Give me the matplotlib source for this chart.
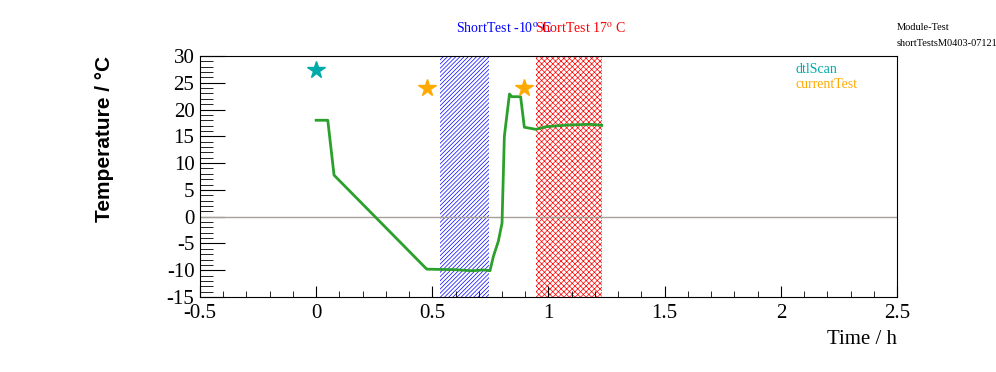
import matplotlib
matplotlib.use("Agg")
import matplotlib.pyplot as plt
from matplotlib.ticker import MultipleLocator, FormatStrFormatter

# Temperature trace
time_h = [0.0, 0.05, 0.077, 0.476, 0.60, 0.67, 0.72, 0.748, 0.763, 0.784, 0.80,
          0.81, 0.832, 0.842, 0.88, 0.896, 0.946, 0.99, 1.08, 1.18, 1.229]
temp_c = [18.0, 18.0, 7.75, -9.8, -9.9, -10.1, -9.95, -10.1, -7.4, -4.6, -1.2,
          15.0, 22.9, 22.4, 22.4, 16.7, 16.3, 16.8, 17.1, 17.25, 17.06]

# Markers
dtl_t = [0.0]
dtl_T = [27.3]
cur_t = [0.476, 0.896]
cur_T = [24.1, 24.1]

# Test windows
cold_window = (0.533, 0.744)
warm_window = (0.945, 1.229)

plt.rcParams['mathtext.fontset'] = 'stix'
plt.rcParams['hatch.linewidth'] = 0.5
plt.rcParams['axes.unicode_minus'] = False
serif = 'Liberation Serif'

fig = plt.figure(figsize=(9.96, 3.72), dpi=100)
ax = fig.add_axes([0.2008, 0.2016, 0.6998, 0.6479])
ax.set_xlim(-0.5, 2.5)
ax.set_ylim(-15, 30)

ax.axvspan(*cold_window, facecolor='none', edgecolor='blue', hatch='////////', linewidth=0)
ax.axvspan(*warm_window, facecolor='none', edgecolor='red', hatch='xxxxxx', linewidth=0)
ax.axhline(0, color='#a89f97', linewidth=1)

ax.plot(time_h, temp_c, color='#2ca02c', linewidth=2)
ax.plot(dtl_t, dtl_T, linestyle='none', marker='*', markersize=13, color='#00aaaa')
ax.plot(cur_t, cur_T, linestyle='none', marker='*', markersize=13, color='#ffaa00')

ax.xaxis.set_major_locator(MultipleLocator(0.5))
ax.xaxis.set_minor_locator(MultipleLocator(0.1))
ax.yaxis.set_major_locator(MultipleLocator(5))
ax.yaxis.set_minor_locator(MultipleLocator(1))
ax.xaxis.set_major_formatter(FormatStrFormatter('%g'))
ax.yaxis.set_major_formatter(FormatStrFormatter('%g'))
ax.tick_params(which='both', direction='in', top=False, right=False)
ax.tick_params(axis='x', which='major', length=8, pad=5)
ax.tick_params(axis='x', which='minor', length=4)
ax.tick_params(axis='y', which='major', length=18, pad=4)
ax.tick_params(axis='y', which='minor', length=9)
for lab in ax.get_xticklabels() + ax.get_yticklabels():
    lab.set_fontfamily(serif)
    lab.set_fontsize(15)

ax.set_ylabel('Temperature / °C', fontfamily='Liberation Sans', fontweight='bold', fontsize=15,
              loc='top', labelpad=38)
ax.set_xlabel('Time / h', fontfamily=serif, fontsize=15, loc='right', labelpad=5)

fig.text(0.4578, 0.925, r'ShortTest -10$^{\mathrm{o}}$ C', color='blue', fontfamily=serif, fontsize=10, va='center')
fig.text(0.537, 0.925, r'ShortTest 17$^{\mathrm{o}}$ C', color='red', fontfamily=serif, fontsize=10, va='center')
fig.text(0.799, 0.812, 'dtlScan', color='#00aaaa', fontfamily=serif, fontsize=10, va='center')
fig.text(0.799, 0.772, 'currentTest', color='#ffaa00', fontfamily=serif, fontsize=10, va='center')
fig.text(0.9, 0.927, 'Module-Test', color='black', fontfamily=serif, fontsize=7.5, va='center')
fig.text(0.9, 0.884, 'shortTestsM0403-071217', color='black', fontfamily=serif, fontsize=7.5, va='center')

fig.savefig('out.png', dpi=100)
